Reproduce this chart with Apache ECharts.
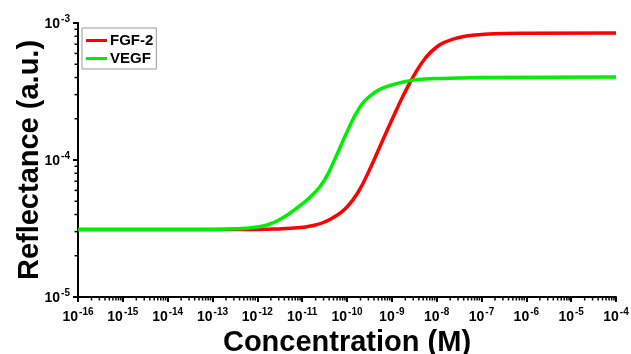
<!DOCTYPE html>
<html><head><meta charset="utf-8">
<script src="https://cdn.jsdelivr.net/npm/echarts@6/dist/echarts.min.js"></script>
<style>html,body{margin:0;padding:0;background:#fff}#c{width:631px;height:354px}</style>
</head><body><div id="c"></div>
<script>
// Concentration exponents (log10 M) and reflectance (a.u.)
const fgfLogConc = [-16, -13, -12.5, -12, -11.75, -11.5, -11.25, -11, -10.75, -10.5, -10.25, -10, -9.75, -9.5, -9.25, -9, -8.75, -8.5, -8.25, -8, -7.75, -7.5, -7.25, -7, -6.5, -6, -4];
const fgfRefl = [3.11e-5, 3.11e-5, 3.11e-5, 3.115e-5, 3.126e-5, 3.142e-5, 3.174e-5, 3.228e-5, 3.326e-5, 3.527e-5, 3.902e-5, 4.539e-5, 5.838e-5, 8.453e-5, 1.287e-4, 1.959e-4, 2.933e-4, 4.173e-4, 5.553e-4, 6.682e-4, 7.389e-4, 7.838e-4, 8.106e-4, 8.243e-4, 8.383e-4, 8.425e-4, 8.453e-4];
const vegfLogConc = [-16, -13, -12.75, -12.5, -12.25, -12, -11.75, -11.5, -11.25, -11, -10.75, -10.5, -10.25, -10, -9.75, -9.5, -9.25, -9, -8.75, -8.5, -8.25, -8, -7.5, -7, -4];
const vegfRefl = [3.11e-5, 3.11e-5, 3.126e-5, 3.147e-5, 3.179e-5, 3.244e-5, 3.382e-5, 3.679e-5, 4.139e-5, 4.773e-5, 5.646e-5, 7.145e-5, 1.052e-4, 1.601e-4, 2.317e-4, 2.907e-4, 3.297e-4, 3.527e-4, 3.71e-4, 3.837e-4, 3.902e-4, 3.935e-4, 3.968e-4, 4.002e-4, 4.036e-4];
const xExponents = [-16, -15, -14, -13, -12, -11, -10, -9, -8, -7, -6, -5, -4];
const yExponents = [-5, -4, -3];
const seriesNames = ['FGF-2', 'VEGF'];

const FONT = '"Liberation Sans", Arial, sans-serif';
const pair = (ls, ys) => ls.map((l, i) => [10 ** l, ys[i]]);
const xMin = 10 ** xExponents[0], xMax = 10 ** xExponents[xExponents.length - 1];
const yMin = 10 ** yExponents[0], yMax = 10 ** yExponents[yExponents.length - 1];

// log minor tick positions (2..9 per decade)
const xMinor = [], yMinor = [];
for (let i = 0; i < xExponents.length - 1; i++) for (let m = 2; m <= 9; m++) xMinor.push([m * 10 ** xExponents[i], yMin]);
for (let i = 0; i < yExponents.length - 1; i++) for (let m = 2; m <= 9; m++) yMinor.push([xMin, m * 10 ** yExponents[i]]);

const expLabel = v => '{b|10}{s|' + Math.round(Math.log10(v)) + '}';
const richLbl = {
  b: { fontFamily: FONT, fontWeight: 'bold', fontSize: 14, color: '#000', verticalAlign: 'bottom' },
  s: { fontFamily: FONT, fontWeight: 'bold', fontSize: 10, color: '#000', verticalAlign: 'bottom', padding: [0, 0, 7, 1] }
};

const chart = echarts.init(document.getElementById('c'), null, { renderer: 'canvas' });
chart.setOption({
  animation: false,
  backgroundColor: '#fff',
  grid: { left: 78, right: 15, top: 23, bottom: 57, containLabel: false, outerBoundsMode: 'none' },
  legend: {
    data: seriesNames, orient: 'vertical', left: 82, top: 28,
    backgroundColor: '#fff', borderColor: '#999', borderWidth: 1, borderRadius: 0,
    padding: [5, 3, 3, 4], itemGap: 3, itemWidth: 21, itemHeight: 3, icon: 'rect',
    textStyle: { fontFamily: FONT, fontWeight: 'bold', fontSize: 15, color: '#000', padding: [0, 0, 0, -2] }
  },
  xAxis: {
    type: 'log', logBase: 10, min: xMin, max: xMax, interval: 1, splitNumber: xExponents.length - 1,
    name: 'Concentration (M)', nameLocation: 'middle', nameGap: 18,
    nameTextStyle: { fontFamily: FONT, fontWeight: 'bold', fontSize: 29, color: '#000' },
    axisLine: { show: true, onZero: false, lineStyle: { color: '#000', width: 2 } },
    axisTick: { show: true, inside: false, length: 5, lineStyle: { color: '#000', width: 2 } },
    axisLabel: { margin: 10, interval: 0, formatter: expLabel, rich: richLbl },
    splitLine: { show: false }
  },
  yAxis: {
    type: 'log', logBase: 10, min: yMin, max: yMax, interval: 1, splitNumber: yExponents.length - 1,
    name: 'Reflectance (a.u.)', nameLocation: 'middle', nameGap: 34, nameRotate: 90, nameMoveOverlap: false,
    nameTextStyle: { fontFamily: FONT, fontWeight: 'bold', fontSize: 29, color: '#000' },
    axisLine: { show: true, onZero: false, lineStyle: { color: '#000', width: 2 } },
    axisTick: { show: true, inside: false, length: 5, lineStyle: { color: '#000', width: 2 } },
    axisLabel: { margin: 8, interval: 0, formatter: expLabel, rich: richLbl },
    splitLine: { show: false }
  },
  series: [
    { name: seriesNames[0], type: 'line', data: pair(fgfLogConc, fgfRefl), smooth: 0.5, showSymbol: false, symbol: 'none',
      color: '#ff0000', lineStyle: { color: '#ff0000', width: 3.5 }, z: 3 },
    { name: seriesNames[1], type: 'line', data: pair(vegfLogConc, vegfRefl), smooth: 0.5, showSymbol: false, symbol: 'none',
      color: '#00ee00', lineStyle: { color: '#00ee00', width: 3.5 }, z: 4 },
    { type: 'custom', silent: true, clip: false, data: xMinor, z: 5,
      renderItem: (p, api) => { const c = api.coord([api.value(0), api.value(1)]);
        return { type: 'line', shape: { x1: c[0], y1: c[1], x2: c[0], y2: c[1] + 3.5 }, style: { stroke: '#000', lineWidth: 1.5 } }; } },
    { type: 'custom', silent: true, clip: false, data: yMinor, z: 5,
      renderItem: (p, api) => { const c = api.coord([api.value(0), api.value(1)]);
        return { type: 'line', shape: { x1: c[0] - 3.5, y1: c[1], x2: c[0], y2: c[1] }, style: { stroke: '#000', lineWidth: 1.5 } }; } }
  ]
});
</script></body></html>
